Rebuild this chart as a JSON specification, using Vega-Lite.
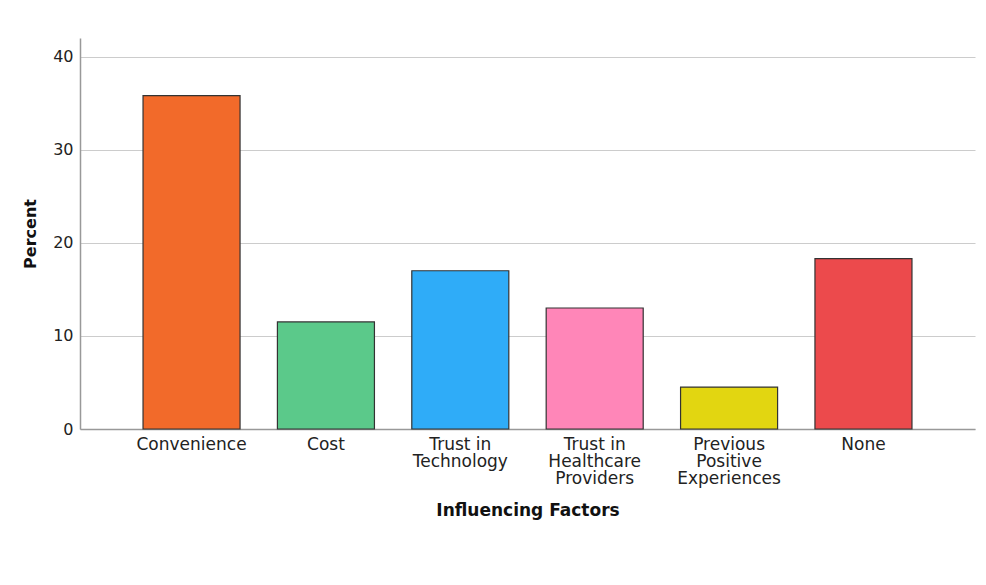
{
  "$schema": "https://vega.github.io/schema/vega-lite/v6.json",
  "autosize": "none",
  "width": 895,
  "height": 391,
  "padding": {"left": 80, "top": 38, "right": 11, "bottom": 156},
  "background": "white",
  "config": {
    "font": "DejaVu Sans",
    "view": {"stroke": null}
  },
  "data": {
    "values": [
      {"factor": "Convenience", "percent": 35.8},
      {"factor": "Cost", "percent": 11.5},
      {"factor": "Trust in Technology", "percent": 17.0},
      {"factor": "Trust in Healthcare Providers", "percent": 13.0},
      {"factor": "Previous Positive Experiences", "percent": 4.5},
      {"factor": "None", "percent": 18.3}
    ]
  },
  "mark": {"type": "bar", "stroke": "#333333", "strokeWidth": 1.2},
  "encoding": {
    "x": {
      "field": "factor",
      "type": "nominal",
      "sort": null,
      "scale": {"paddingInner": 0.278, "paddingOuter": 0.469},
      "axis": {
        "title": "Influencing Factors",
        "titleFontSize": 17,
        "titleFontWeight": "bold",
        "titleColor": "#111111",
        "titlePadding": 16,
        "labelAngle": 0,
        "labelFontSize": 17,
        "labelColor": "#222222",
        "labelPadding": 7,
        "labelLineHeight": 17,
        "ticks": false,
        "domainColor": "#999999",
        "domainWidth": 1.5,
        "labelExpr": "datum.value == 'Trust in Technology' ? ['Trust in', 'Technology'] : datum.value == 'Trust in Healthcare Providers' ? ['Trust in', 'Healthcare', 'Providers'] : datum.value == 'Previous Positive Experiences' ? ['Previous', 'Positive', 'Experiences'] : datum.value"
      }
    },
    "y": {
      "field": "percent",
      "type": "quantitative",
      "scale": {"domain": [0, 42], "nice": false},
      "axis": {
        "title": "Percent",
        "titleFontSize": 16,
        "titleFontWeight": "bold",
        "titleColor": "#111111",
        "titlePadding": 14,
        "values": [0, 10, 20, 30, 40],
        "labelFontSize": 16,
        "labelColor": "#222222",
        "labelPadding": 7,
        "ticks": false,
        "domainColor": "#999999",
        "domainWidth": 1.5,
        "gridColor": "#cccccc",
        "gridWidth": 1.2
      }
    },
    "color": {
      "field": "factor",
      "type": "nominal",
      "sort": null,
      "scale": {
        "domain": ["Convenience", "Cost", "Trust in Technology", "Trust in Healthcare Providers", "Previous Positive Experiences", "None"],
        "range": ["#F26A2A", "#5BC98A", "#2FACF8", "#FF86B8", "#E2D611", "#EC4A4C"]
      },
      "legend": null
    }
  }
}
